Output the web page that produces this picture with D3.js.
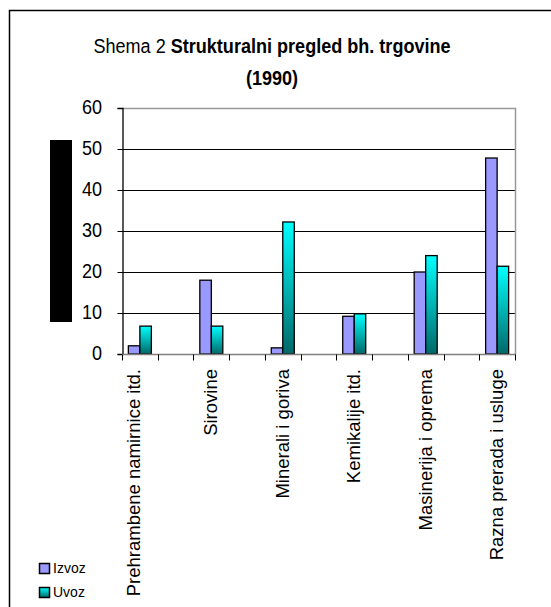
<!DOCTYPE html>
<html>
<head>
<meta charset="utf-8">
<script src="https://cdn.jsdelivr.net/npm/d3@7"></script>
<style>
  body { margin: 0; background: #fff; }
  svg text { font-family: "Liberation Sans", Arial, sans-serif; fill: #000; }
</style>
</head>
<body>
<svg id="chart" width="551" height="607"></svg>
<script>
// data
const categories = ["Prehrambene namirnice itd.", "Sirovine", "Minerali i goriva",
    "Kemikalije itd.", "Masinerija i oprema", "Razna prerada i usluge"];
const izvoz = [2, 18, 1.5, 9.2, 20, 47.8];
const uvoz = [6.8, 6.8, 32.2, 9.8, 24, 21.4];
const seriesNames = ["Izvoz", "Uvoz"];
const yTicks = [0, 10, 20, 30, 40, 50, 60];

const svg = d3.select("#chart");
const plotLeft = 122, plotRight = 515, plotTop = 108, plotBottom = 354;
const narrow = 0.86; // squeeze to look like a narrow face

// gradient for Uvoz bars
const defs = svg.append("defs");
const grad = defs.append("linearGradient")
    .attr("id", "uvozGrad")
    .attr("x1", 0).attr("y1", 0).attr("x2", 0).attr("y2", 1);
grad.append("stop").attr("offset", "0%").attr("stop-color", "#00ffff");
grad.append("stop").attr("offset", "100%").attr("stop-color", "#006868");

// outer frame (only top/left fall inside the window)
svg.append("path")
    .attr("d", "M9.5,620V10.5H560")
    .attr("fill", "none")
    .attr("stroke", "#000")
    .attr("stroke-width", 1.5);

// title
const title = svg.append("text")
    .attr("transform", `translate(272,53) scale(${narrow},1)`)
    .attr("text-anchor", "middle")
    .style("font-size", "21px");
title.append("tspan").text("Shema 2 ");
title.append("tspan").style("font-weight", "bold").text("Strukturalni pregled bh. trgovine");
svg.append("text")
    .attr("transform", `translate(272,85) scale(${narrow},1)`)
    .attr("text-anchor", "middle")
    .style("font-size", "21px")
    .style("font-weight", "bold")
    .text("(1990)");

// black block to the left of the axis
svg.append("rect")
    .attr("x", 50).attr("y", 140)
    .attr("width", 22).attr("height", 182)
    .attr("fill", "#000");

// scales: 11 slots, categories on every other slot
const x = d3.scaleBand()
    .domain(d3.range(categories.length * 2 - 1))
    .range([plotLeft, plotRight])
    .padding(0);
const y = d3.scaleLinear().domain([0, 60]).range([plotBottom, plotTop]);

// gridlines
svg.append("g")
    .selectAll("line")
    .data(yTicks.filter(d => d > 0 && d < 60))
    .enter().append("line")
    .attr("x1", plotLeft).attr("x2", plotRight)
    .attr("y1", d => Math.round(y(d)) + 0.5)
    .attr("y2", d => Math.round(y(d)) + 0.5)
    .attr("stroke", "#000")
    .attr("stroke-width", 1);

// plot area border top/right
svg.append("path")
    .attr("d", `M${plotLeft},${plotTop + 0.5}H${plotRight + 0.5}V${plotBottom}`)
    .attr("fill", "none")
    .attr("stroke", "#999")
    .attr("stroke-width", 1.5);

// bars
const bw = 11.5;
const groups = svg.append("g")
    .selectAll("g")
    .data(categories)
    .enter().append("g")
    .attr("transform", (d, i) => `translate(${x(i * 2) + x.bandwidth() / 2 - bw},0)`);

groups.append("rect")
    .attr("x", 0)
    .attr("y", (d, i) => y(izvoz[i]))
    .attr("width", bw)
    .attr("height", (d, i) => plotBottom - y(izvoz[i]))
    .attr("fill", "#9999ff")
    .attr("stroke", "#000")
    .attr("stroke-width", 1.3);

groups.append("rect")
    .attr("x", bw)
    .attr("y", (d, i) => y(uvoz[i]))
    .attr("width", bw)
    .attr("height", (d, i) => plotBottom - y(uvoz[i]))
    .attr("fill", "url(#uvozGrad)")
    .attr("stroke", "#000")
    .attr("stroke-width", 1.3);

// y axis
const yAxis = svg.append("g")
    .attr("transform", `translate(${plotLeft + 0.5},0)`)
    .call(d3.axisLeft(y).tickValues(yTicks).tickSize(5).tickPadding(0));
yAxis.select(".domain").attr("stroke", "#000").attr("stroke-width", 1.3);
yAxis.selectAll(".tick line").attr("stroke", "#000");
yAxis.selectAll("text")
    .style("font-size", "21px")
    .attr("x", -20.5 / narrow)
    .attr("dy", "0.27em")
    .attr("transform", `scale(${narrow},1)`)
    .attr("fill", "#000");

// x axis with ticks between slots
const xAxisG = svg.append("g").attr("transform", `translate(0,${plotBottom + 0.5})`);
xAxisG.append("line")
    .attr("x1", plotLeft).attr("x2", plotRight + 1)
    .attr("stroke", "#808080").attr("stroke-width", 1.5);
xAxisG.selectAll("line.tick")
    .data(d3.range(categories.length * 2))
    .enter().append("line")
    .attr("class", "tick")
    .attr("x1", d => Math.round(d === categories.length * 2 - 1 ? plotRight : x(d)) + 0.5)
    .attr("x2", d => Math.round(d === categories.length * 2 - 1 ? plotRight : x(d)) + 0.5)
    .attr("y1", 0).attr("y2", 6)
    .attr("stroke", "#000");

// category labels, rotated
svg.append("g")
    .selectAll("text")
    .data(categories)
    .enter().append("text")
    .attr("transform", (d, i) => `translate(${x(i * 2) + x.bandwidth() / 2 + (i === 0 ? 0 : 6)},${plotBottom + 15}) rotate(-90)`)
    .attr("text-anchor", "end")
    .style("font-size", "18.5px")
    .text(d => d);

// legend
const legend = svg.append("g")
    .selectAll("g")
    .data(seriesNames)
    .enter().append("g")
    .attr("transform", (d, i) => `translate(39.5,${563.5 + i * 24})`);
legend.append("rect")
    .attr("width", 10).attr("height", 10)
    .attr("fill", (d, i) => i === 0 ? "#9999ff" : "url(#uvozGrad)")
    .attr("stroke", "#000")
    .attr("stroke-width", 1.5);
legend.append("text")
    .attr("x", 13.5).attr("y", 9.5)
    .style("font-size", "14px")
    .text(d => d);
</script>
</body>
</html>
